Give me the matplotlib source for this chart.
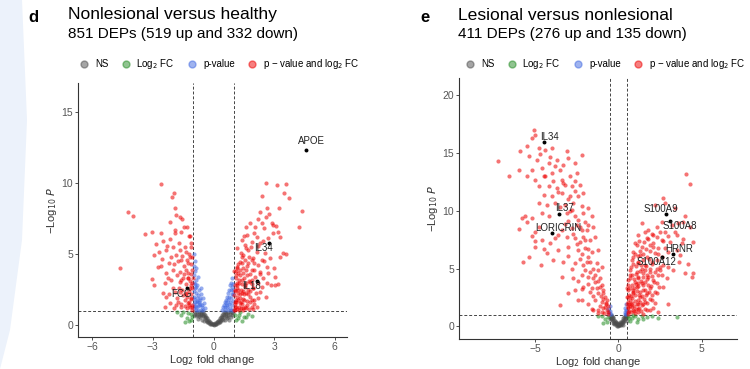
import matplotlib
matplotlib.use("Agg")
import matplotlib.pyplot as plt
from matplotlib.lines import Line2D
from matplotlib.patches import Polygon

plt.rcParams['font.family'] = ['Liberation Sans', 'DejaVu Sans']

# ---- panel d: nonlesional versus healthy ----
d_red_x = [-2.61, -1.93, -2.05, -1.9, -4.25, -4.0, -1.85, -1.65, -1.54, -2.17, -1.47, -1.29,
           -3.37, -3.04, -2.61, -1.88, -1.59, -1.17, -2.86, -2.17, -1.7, -1.09, -2.69, -2.33,
           -1.87, -1.34, -2.94, -2.55, -4.61, -2.2, -1.59, -1.26, -1.17, -2.74, -2.0, -2.33,
           -1.67, -1.37, -1.09, -3.02, -2.96, -2.41, -2.12, -1.67, -1.26, -1.04, -2.5, -2.33,
           -1.92, -1.54, -1.14, -1.34, -2.17, -1.75, -1.42, -1.09, -1.59, -1.21, -1.04, -1.97,
           -2.41, -1.1, -1.2, -1.05, -1.3, -1.15, -1.25, -1.45, -1.05, -1.1, -1.3, -1.7, -1.8,
           -1.5, -2.0, -1.95, -2.3, -1.2, -1.02, -1.08, -1.35,
           -1.05, -1.15, -1.25, -1.4, -1.6, -1.85, -1.1, -1.2, -1.35, -1.5, -1.65, -2.2, -1.12,
           -1.28, -1.45, -1.6, -1.8, -2.25, -1.1, -1.3, -1.55, -1.75, -2.1, -2.6, -1.4, -1.65,
           -2.0, -2.5, -1.9, -1.05, -1.2,
           2.58, 3.12, 3.59, 3.5, 3.71, 2.38, 2.63, 3.26, 4.36, 2.3, 2.61, 2.91, 2.96, 4.25,
           1.8, 2.4, 1.59, 2.05, 2.5, 2.93, 3.21, 1.67, 2.13, 2.71, 1.39, 1.88, 2.31, 1.55,
           1.17, 1.72, 2.13, 2.55, 3.45, 3.29, 1.47, 1.97, 2.38, 2.79, 1.31, 1.72, 2.21, 2.63,
           1.14, 1.47, 1.88, 2.3, 2.71, 3.04, 1.22, 1.64, 2.05, 2.46, 1.1, 1.39, 1.8, 2.63,
           3.04, 1.17, 1.55, 1.97, 2.3, 1.06, 1.39, 1.72, 1.14, 1.47, 1.88, 1.06, 1.31, 1.64,
           2.13, 1.11, 1.44, 1.97, 1.02, 1.05, 1.08, 1.12, 1.03, 1.2, 1.25, 1.3, 1.18, 1.35,
           1.4, 1.5, 1.55, 1.6, 1.25, 1.05, 1.1, 1.3, 1.5, 1.7, 1.8, 1.9, 2.0, 2.2, 2.4, 1.65,
           1.9, 1.4, 1.15, 1.02,
           1.05, 1.15, 1.25, 1.35, 1.45, 1.6, 1.75, 1.9, 1.1, 1.2, 1.35, 1.5, 1.65, 1.8, 2.0,
           1.08, 1.22, 1.32, 1.45, 1.62, 1.78, 1.95, 2.1, 1.15, 1.28, 1.42, 1.58, 1.75, 1.92,
           2.2, 1.1, 1.3, 1.45, 1.6, 1.8, 2.0, 2.3, 1.2, 1.4, 1.55, 1.75, 2.0, 2.5, 1.35, 1.6,
           1.85, 2.2, 2.45, 1.5, 2.0, 2.2, 2.75, 3.1, 3.3, 3.6, 3.0, 2.85, 2.6, 3.2]
d_red_y = [9.93, 9.29, 9.06, 8.28, 8.0, 7.69, 7.76, 7.65, 7.48, 7.25, 6.94, 6.94,
           6.42, 6.54, 6.47, 6.52, 6.59, 6.31, 5.72, 6.05, 5.76, 5.53, 5.18, 5.29,
           4.94, 5.18, 4.94, 4.64, 4.05, 4.35, 4.59, 4.4, 4.82, 4.12, 3.88, 3.65,
           3.76, 3.88, 3.6, 3.22, 2.82, 2.94, 3.18, 3.06, 3.29, 2.94, 2.28, 2.0,
           2.35, 2.47, 2.59, 2.24, 1.53, 1.65, 1.76, 1.88, 1.29, 1.41, 1.25, 1.18,
           1.29, 2.2, 1.6, 1.45, 2.0, 3.1, 3.7, 4.2, 4.8, 5.8, 1.2, 2.6, 1.9,
           3.3, 2.6, 4.3, 5.6, 6.3, 3.3, 2.6, 2.9,
           1.1, 1.3, 1.55, 1.35, 1.5, 1.4, 1.9, 2.4, 2.2, 2.1, 2.35, 2.2, 2.8,
           3.3, 3.6, 3.2, 3.5, 3.3, 4.3, 4.6, 4.9, 4.5, 4.8, 4.2, 5.5, 5.3,
           5.5, 5.9, 6.7, 3.9, 5.0,
           9.98, 9.84, 9.91, 9.29, 8.96, 9.08, 8.24, 8.28, 8.05, 8.0, 7.62, 7.22, 7.04, 6.94,
           7.18, 7.18, 6.94, 6.89, 6.82, 6.47, 6.59, 6.35, 6.24, 6.12, 6.0, 5.88, 5.76, 5.65,
           5.41, 5.29, 5.18, 5.11, 5.06, 4.82, 4.94, 4.71, 4.59, 4.71, 4.47, 4.35, 4.24, 4.12,
           4.12, 4.0, 3.88, 3.76, 3.65, 3.41, 3.65, 3.53, 3.41, 3.29, 3.29, 3.18, 3.06, 2.94,
           2.82, 2.82, 2.71, 2.59, 2.35, 2.47, 2.28, 2.19, 2.0, 1.88, 1.76, 1.65, 1.53, 1.41,
           1.29, 1.25, 1.18, 1.11, 1.1, 1.3, 1.5, 1.8, 2.1, 2.3, 1.3, 1.9, 2.6, 2.5,
           1.5, 2.2, 1.3, 3.0, 3.0, 2.8, 3.5, 3.9, 3.3, 2.5, 2.0, 3.2, 1.5, 1.9, 2.7, 4.2,
           4.6, 4.8, 4.0, 3.8,
           1.05, 1.15, 1.05, 1.2, 1.1, 1.2, 1.15, 1.25, 1.6, 1.75, 1.65, 1.8, 1.7, 1.6, 1.8,
           2.4, 2.5, 2.2, 2.4, 2.3, 2.4, 2.6, 2.3, 3.0, 3.2, 2.9, 2.8, 3.1, 2.9,
           3.0, 3.8, 3.5, 3.7, 3.9, 3.6, 3.9, 3.6, 4.3, 4.4, 4.6, 4.8, 4.4, 4.5, 5.1, 5.4,
           5.5, 5.6, 5.9, 6.3, 6.5, 7.5, 7.8, 7.0, 6.2, 5.0, 4.0, 2.8, 2.0, 2.9]
d_blue_x = [-0.95, -0.9, -0.98, -0.92, -0.97, -0.85, -0.95, -0.8, -0.9, -0.7, -0.85, -0.6,
            -0.75, -0.95, -0.5, -0.65, -0.8, -0.9, -0.45, -0.55, -0.7, -0.85, -0.95, -0.4,
            -0.5, -0.6, -0.75, -0.88, -0.98, -0.72, -0.62, -0.78, -0.58, -0.68, -0.82, -0.92,
            -0.97, -0.88, -0.96, -0.86, -0.76, -0.66, -0.93, -0.83,
            0.4, 0.45, 0.5, 0.55, 0.6, 0.65, 0.7, 0.75, 0.8, 0.85, 0.9, 0.95, 0.92, 0.85,
            0.75, 0.65, 0.55, 0.8, 0.9, 0.95, 0.7, 0.88, 0.97, 0.62, 0.78, 0.98, 0.93, 0.72,
            0.68, 0.82, 0.96, 0.58, 0.87]
d_blue_y = [5.0, 4.5, 4.2, 3.8, 3.5, 3.2, 3.0, 2.8, 2.6, 2.5, 2.3, 2.2,
            2.1, 2.0, 1.9, 1.8, 1.7, 1.6, 1.55, 1.45, 1.4, 1.3, 1.2, 1.2,
            1.1, 1.05, 1.1, 1.05, 1.5, 1.65, 2.6, 3.4, 1.25, 1.95, 1.9, 2.9,
            2.4, 4.0, 1.85, 2.7, 1.35, 1.5, 1.35, 1.6,
            1.1, 1.25, 1.4, 1.6, 1.8, 2.0, 2.3, 2.5, 2.8, 3.0, 2.7, 2.5, 2.2, 1.9,
            1.5, 1.3, 1.1, 1.2, 1.4, 1.7, 1.1, 1.1, 1.05, 1.55, 2.0, 2.9, 3.3, 1.75,
            1.45, 1.65, 2.2, 1.3, 2.45]
d_green_x = [-1.1, -1.3, -1.5, -1.2, -1.6, -1.05, -1.4, -1.25, -1.8, -1.1,
             1.05, 1.2, 1.3, 1.5, 1.7, 1.1, 1.4, 1.9, 1.25, 1.6]
d_green_y = [0.8, 0.5, 0.9, 0.3, 0.7, 0.6, 0.2, 0.85, 0.95, 0.4,
             0.7, 0.5, 0.9, 0.6, 0.8, 0.35, 0.3, 0.65, 0.75, 0.55]
d_grey_x = [0, 0.05, -0.05, 0.1, -0.1, 0.15, -0.15, 0.2, -0.2, 0.25, -0.25, 0.3, -0.3, 0.35,
            -0.35, 0.4, -0.4, 0.45, -0.45, 0.5, -0.5, 0.55, -0.55, 0.6, -0.6, 0.7, -0.7, 0.8,
            -0.8, 0.9, -0.9, 0.3, -0.3, 0.4, -0.4, 0.5, -0.5, 0.6, -0.6, 0.7, -0.7, 0.8, -0.8,
            0.9, -0.9, 0.2, -0.2, 0.1, -0.12, 0.35, -0.38, 0.65, -0.65, 0.85, -0.85, 0.95,
            -0.95, 0.75, -0.75, 0.55, -0.55, 0.02, -0.03, 0.08, -0.08, 0.18, -0.18, 0.28,
            -0.28, 0.42, -0.42, 0.52, -0.52, 0.62, -0.62, 0.72, -0.72, 0.33, -0.33, 0.47, -0.47]
d_grey_y = [0.02, 0.05, 0.08, 0.12, 0.15, 0.2, 0.22, 0.3, 0.28, 0.38, 0.4, 0.48, 0.5, 0.6,
            0.58, 0.7, 0.72, 0.82, 0.8, 0.9, 0.92, 0.95, 0.97, 0.85, 0.88, 0.9, 0.93, 0.95,
            0.9, 0.92, 0.96, 0.3, 0.32, 0.45, 0.5, 0.6, 0.62, 0.65, 0.7, 0.75, 0.78, 0.8, 0.7,
            0.75, 0.8, 0.15, 0.18, 0.05, 0.06, 0.4, 0.35, 0.5, 0.55, 0.6, 0.62, 0.85,
            0.7, 0.4, 0.45, 0.35, 0.4, 0.1, 0.12, 0.18, 0.1, 0.25, 0.12, 0.2, 0.25, 0.55,
            0.6, 0.75, 0.72, 0.78, 0.82, 0.6, 0.65, 0.2, 0.22, 0.35, 0.3]
d_labels = ['APOE', 'IL34', 'IL18', 'FCG']
d_label_x = [4.55, 2.73, 2.13, -1.32]
d_label_y = [12.35, 5.81, 3.13, 2.6]

# ---- panel e: lesional versus nonlesional ----
e_red_x = [-7.26, -6.6, -5.1, -5.0, -5.2, -4.76, -5.5, -5.94, -5.4, -4.9, -4.4, -4.0, -3.7,
           -4.2, -4.6, -5.2, -6.0, -5.5, -5.0, -4.5, -4.0, -3.5, -3.1, -3.0, -2.6, -2.2,
           -3.4, -2.9, -2.5, -4.8, -4.2, -3.7, -3.2, -2.8, -2.3, -4.5, -4.0, -3.4, -2.9,
           -2.4, -2.1, -4.8, -4.3, -3.8, -3.2, -2.7, -2.2, -1.8, -5.6, -5.2, -4.6, -4.2,
           -3.1, -2.6, -2.1, -1.6, -4.8, -3.4, -2.8, -2.3, -1.8, -1.5, -5.04, -4.6, -3.8,
           -3.1, -2.6, -2.1, -1.7, -1.4, -5.0, -4.3, -3.6, -3.0, -2.4, -2.0, -1.6, -1.2,
           -5.74, -4.66, -3.3, -2.6, -2.1, -1.7, -1.3, -1.0, -3.4, -2.7, -2.2, -1.8, -1.4,
           -1.1, -2.6, -2.1, -1.7, -1.3, -0.9, -3.5, -2.2, -1.8, -1.4, -1.0, -0.8, -1.6,
           -1.2, -0.8, -0.64, -1.0, -0.76, -0.9, -1.1, -0.7, -1.2, -1.5, -1.8, -1.9, -2.4,
           -2.8,
           -0.6, -0.7, -0.85, -0.95, -1.1, -1.25, -0.62, -0.72, -0.9, -1.05, -1.25, -1.5, -1.6,
           -1.85, -1.2, -1.4, -1.0, -1.55, -1.7, -2.0, -1.9, -2.3, -2.2, -1.8, -2.5, -2.3,
           -2.0, -2.7, -2.2, -2.5, -3.0, -2.0, -2.9, -3.5, -3.0, -3.6, -2.6, -3.3, -3.9, -2.6,
           -4.4, -3.8, -3.3, -4.7, -4.1, -5.8, -5.5, -5.0, -5.2, -5.4, -6.0, -3.2, -3.6, -4.1,
           -3.0, -2.8, -2.4, -2.2, -1.5, -3.0, -2.4, -4.5, -3.9,
           4.06, 4.3, 2.7, 2.8, 2.2, 3.4, 4.0, 3.9, 4.3, 3.6, 1.4, 1.8, 2.3, 2.8, 3.4, 1.2,
           1.7, 2.1, 2.6, 3.1, 3.8, 1.0, 1.4, 1.9, 2.4, 3.0, 3.5, 0.9, 1.3, 1.7, 2.2, 3.64,
           0.8, 1.2, 1.6, 2.0, 2.5, 3.0, 0.7, 1.1, 1.5, 1.9, 2.4, 2.9, 4.0, 4.4, 4.5, 0.6,
           1.0, 1.4, 1.8, 2.3, 2.7, 0.54, 0.9, 1.3, 1.7, 2.2, 0.5, 0.8, 1.2, 1.6, 2.0, 2.96,
           0.52, 0.8, 1.2, 1.7, 0.6, 1.0, 1.5, 2.4, 0.7, 0.9, 1.1, 0.6, 0.7, 1.2, 1.4, 1.8,
           2.1, 0.6, 0.56, 0.76, 1.1, 1.4, 1.3, 1.6, 1.9, 1.2, 2.5, 2.6, 3.3, 2.1, 2.3,
           0.55, 0.65, 0.75, 0.85, 0.95, 1.05, 1.15, 1.25, 1.35, 1.6, 1.9, 2.1,
           0.55, 0.62, 0.72, 0.82, 0.92, 1.02, 1.15, 1.3, 1.45, 1.55, 1.75, 1.9, 2.2,
           0.58, 0.66, 0.78, 0.88, 1.0, 1.12, 1.25, 1.4, 1.5, 1.65, 1.85, 2.05, 2.35,
           0.6, 0.7, 0.82, 0.95, 1.05, 1.2, 1.35, 1.5, 1.62, 1.75, 1.95, 2.15, 2.45,
           0.68, 0.8, 0.92, 1.05, 1.18, 1.3, 1.45, 1.6, 1.72, 1.88, 2.05, 2.2, 2.6,
           0.78, 0.9, 1.05, 1.2, 1.35, 1.5, 1.68, 1.85, 2.05, 2.3, 2.7,
           0.85, 1.0, 1.15, 1.3, 1.5, 1.65, 1.9, 2.1, 2.4, 2.8,
           1.1, 1.25, 1.55, 1.8, 2.0, 2.3, 2.5, 2.7, 3.0, 1.6, 2.6, 3.2, 3.5, 3.9, 4.5, 3.7, 4.2]
e_red_y = [14.35, 13.04, 16.96, 16.6, 16.3, 15.45, 15.6, 15.16, 14.72, 14.43, 15.3, 15.45,
           14.43, 14.14, 13.71, 13.57, 13.57, 12.99, 12.7, 12.99, 13.28, 13.57, 15.16, 14.58,
           14.14, 14.87, 12.7, 12.99, 13.28, 12.12, 12.12, 11.97, 12.26, 12.12, 12.26, 11.39,
           11.25, 11.54, 11.25, 11.25, 11.54, 10.67, 10.52, 10.67, 10.52, 10.67, 10.38, 10.23,
           9.51, 9.36, 9.8, 9.51, 9.8, 9.51, 9.8, 9.51, 8.64, 8.35, 8.49, 8.64, 8.78, 8.64,
           7.42, 7.48, 7.62, 7.77, 7.62, 7.77, 7.48, 7.77, 6.9, 6.32, 6.61, 6.9, 6.61, 6.75,
           6.46, 6.61, 5.59, 5.3, 5.59, 5.45, 5.3, 5.59, 5.45, 5.16, 4.29, 4.14, 4.43, 4.29,
           4.43, 4.14, 3.13, 3.42, 2.99, 3.28, 3.13, 1.83, 2.26, 1.97, 2.26, 2.12, 2.55, 1.54,
           1.39, 1.68, 1.25, 1.25, 1.97, 2.84, 3.42, 2.26, 4.87, 5.0, 6.03, 8.35, 9.22,
           10.09,
           1.1, 1.4, 1.15, 1.6, 1.8, 1.15, 1.8, 2.0, 2.4, 2.6, 2.9, 2.6, 3.3,
           3.7, 3.9, 3.8, 3.6, 4.2, 4.7, 4.9, 5.6, 5.8, 6.3, 6.7, 7.1, 7.3,
           7.5, 8.0, 8.3, 8.8, 9.1, 9.0, 10.0, 10.3, 11.0, 11.6, 11.7, 12.4, 12.6, 12.6,
           13.0, 13.9, 14.0, 14.9, 14.7, 9.4, 9.0, 8.2, 7.8, 6.0, 8.4, 8.9, 7.9, 7.2,
           6.1, 5.0, 3.9, 3.2, 1.4, 2.9, 2.3, 6.7, 5.7,
           13.22, 12.35, 11.1, 10.67, 10.52, 10.23, 9.51, 9.07, 8.64, 8.93, 8.93, 8.35, 8.64,
           8.2, 8.2, 7.91, 7.62, 7.91, 7.48, 7.33, 7.19, 7.19, 6.9, 7.04, 6.75, 6.46, 6.61,
           6.46, 6.17, 6.03, 6.32, 5.59, 5.74, 5.45, 5.3, 5.59, 5.16, 5.16, 4.87, 4.72, 4.58,
           4.72, 4.43, 4.14, 4.58, 4.29, 4.58, 4.0, 3.86, 3.71, 3.57, 3.71, 3.42, 3.28, 3.13,
           2.99, 2.84, 2.99, 2.55, 2.41, 2.26, 2.12, 2.26, 1.97, 1.97, 1.68, 1.54, 1.39, 1.25,
           1.16, 1.1, 1.25, 2.26, 2.84, 3.42, 3.57, 4.43, 4.14, 5.0, 4.29, 4.0, 1.62, 2.12,
           1.97, 1.97, 1.83, 2.55, 3.13, 3.28, 3.71, 4.87, 6.03, 4.87, 7.19, 5.0,
           1.1, 1.35, 1.2, 1.45, 1.3, 1.5, 1.25, 1.6, 1.35, 1.5, 1.4, 1.6,
           1.7, 1.95, 1.8, 2.05, 1.75, 2.2, 1.9, 2.1, 1.95, 2.35, 2.05, 2.4, 2.0,
           2.5, 2.75, 2.6, 2.95, 2.7, 3.05, 2.75, 2.6, 3.1, 2.7, 3.0, 2.7, 2.9,
           3.1, 3.35, 3.6, 3.3, 3.7, 3.45, 3.9, 3.6, 3.85, 4.1, 3.5, 3.8, 3.4,
           4.2, 4.45, 4.1, 4.5, 4.3, 4.75, 4.25, 4.9, 4.45, 4.95, 4.35, 4.7, 4.4,
           5.1, 5.4, 5.25, 5.6, 5.3, 5.7, 5.2, 5.8, 5.4, 5.7, 5.3,
           6.0, 6.3, 6.1, 6.5, 6.3, 6.7, 6.5, 6.9, 6.3, 6.8,
           7.0, 7.4, 7.3, 7.6, 8.0, 7.7, 8.2, 7.4, 7.8, 8.2, 9.0, 8.8, 7.9, 7.6, 7.3, 6.2, 5.4]
e_blue_x = [-0.55, -0.6, -0.5, -0.45, -0.52, -0.58, 0.45, 0.5, 0.4, 0.48, 0.42, 0.38, 0.46]
e_blue_y = [1.2, 1.5, 1.8, 1.1, 1.35, 1.05, 1.1, 1.3, 1.6, 1.9, 1.2, 1.05, 1.45]
e_green_x = [-0.6, -0.8, -1.0, -0.7, -1.2, -0.9,
             0.6, 0.8, 1.0, 1.2, 1.4, 1.7, 0.7, 2.0, 2.4, 1.1, 3.5, 0.9, 1.5, 0.65]
e_green_y = [0.8, 0.6, 0.9, 0.4, 0.85, 0.3,
             0.9, 0.7, 0.85, 0.6, 0.9, 0.8, 0.5, 0.9, 0.75, 0.4, 0.8, 0.95, 0.65, 0.7]
e_grey_x = [0, 0.05, -0.05, 0.1, -0.1, 0.15, -0.15, 0.2, -0.2, 0.25, -0.25, 0.3, -0.3, 0.35,
            -0.35, 0.4, -0.4, 0.45, -0.45, 0.48, -0.48, 0.3, -0.3, 0.4, -0.4, 0.2, -0.2, 0.1,
            -0.1, 0.45, -0.45, 0.35, -0.35, 0.25, -0.25, 0.12, -0.12, 0.5, -0.5, 0.02, -0.02,
            0.07, -0.07, 0.17, -0.17, 0.27, -0.27, 0.38, -0.38]
e_grey_y = [0.02, 0.1, 0.12, 0.2, 0.22, 0.3, 0.32, 0.42, 0.45, 0.55, 0.52, 0.68, 0.7, 0.8,
            0.82, 0.9, 0.92, 0.95, 0.97, 0.85, 0.8, 0.4, 0.45, 0.6, 0.55, 0.2, 0.25, 0.08,
            0.05, 0.7, 0.65, 0.5, 0.3, 0.15, 0.18, 0.35, 0.4, 0.5, 0.6, 0.15, 0.2,
            0.25, 0.3, 0.12, 0.1, 0.35, 0.3, 0.7, 0.75]
e_labels = ['IL34', 'IL37', 'LORICRIN', 'S100A9', 'S100A8', 'HRNR', 'S100A12']
e_label_x = [-4.48, -3.58, -3.96, 2.86, 3.1, 3.3, 2.64]
e_label_y = [15.94, 9.74, 8.06, 9.71, 9.16, 6.23, 6.03]

COL_NS = '#4d4d4d'
COL_FC = '#228b22'
COL_P = '#4169e1'
COL_BOTH = '#ee0000'

fig = plt.figure(figsize=(7.5, 3.69), dpi=100)
W, H = 750, 369

# faint blue page decoration on the left edge
fig.patches.append(Polygon([(0, 1), (22 / W, 1), (27 / W, 1 - 120 / H), (22 / W, 1 - 240 / H),
                            (10 / W, 1 - 330 / H), (0, 0)], closed=True,
                           transform=fig.transFigure, facecolor='#ecf2fb', edgecolor='none',
                           zorder=0))


def px_axes(l, t, r, b):
    return fig.add_axes([l / W, 1 - b / H, (r - l) / W, (b - t) / H])


def volcano(ax, groups, fc, xlim, ylim, xticks, yticks, labels, lx, ly, offsets):
    for x, y, c in groups:
        ax.scatter(x, y, s=9, c=c, alpha=0.55, linewidths=0, zorder=2)
    ax.axvline(-fc, color='#444444', ls=(0, (3, 2)), lw=0.7, zorder=1)
    ax.axvline(fc, color='#444444', ls=(0, (3, 2)), lw=0.7, zorder=1)
    ax.axhline(1, color='#444444', ls=(0, (3, 2)), lw=0.7, zorder=1)
    ax.scatter(lx, ly, s=8, c='black', zorder=3, linewidths=0)
    for name, x, y, off in zip(labels, lx, ly, offsets):
        ax.annotate(name, (x, y), xytext=off, textcoords='offset points',
                    ha='center', va='center', fontsize=7, color='#222222', zorder=4)
    ax.set_xlim(*xlim)
    ax.set_ylim(*ylim)
    ax.set_xticks(xticks)
    ax.set_yticks(yticks)
    ax.set_xticklabels([str(t).replace('-', '\u2212') for t in xticks])
    ax.patch.set_alpha(0)
    for s in ['top', 'right']:
        ax.spines[s].set_visible(False)
    for s in ['left', 'bottom']:
        ax.spines[s].set_color('#333333')
        ax.spines[s].set_linewidth(0.8)
    ax.tick_params(colors='#333333', labelcolor='#555555', labelsize=7.5, length=2, width=0.6,
                   pad=1.5)
    ax.set_xlabel('Log$_2$ fold change', fontsize=8, color='#333333', labelpad=1)
    ax.set_ylabel('\u2212Log$_{10}$ $P$', fontsize=8, color='#333333', labelpad=2)


ax1 = px_axes(78, 83, 347, 337)
volcano(ax1,
        [(d_grey_x, d_grey_y, COL_NS), (d_green_x, d_green_y, COL_FC),
         (d_blue_x, d_blue_y, COL_P), (d_red_x, d_red_y, COL_BOTH)],
        1, (-6.7, 6.6), (-0.83, 17.05), [-6, -3, 0, 3, 6], [0, 5, 10, 15],
        d_labels, d_label_x, d_label_y,
        [(4, 6), (-4, -4), (-4, -4), (-4, -4)])

ax2 = px_axes(459, 78, 737, 339)
volcano(ax2,
        [(e_grey_x, e_grey_y, COL_NS), (e_green_x, e_green_y, COL_FC),
         (e_blue_x, e_blue_y, COL_P), (e_red_x, e_red_y, COL_BOTH)],
        0.5, (-9.58, 7.13), (-1.1, 21.5), [-5, 0, 5], [0, 5, 10, 15, 20],
        e_labels, e_label_x, e_label_y,
        [(4, 4), (4, 4), (4, 4), (-4, 4), (7, -4), (4, 4), (-4, -4)])

# titles
for x0, off, letter, title, sub in [(28, 40, 'd', 'Nonlesional versus healthy',
                                     '851 DEPs (519 up and 332 down)'),
                                    (420, 38, 'e', 'Lesional versus nonlesional',
                                     '411 DEPs (276 up and 135 down)')]:
    fig.text(x0 / W, 1 - 18 / H, letter, fontsize=12, fontweight='bold', va='center')
    fig.text((x0 + off) / W, 1 - 15 / H, title, fontsize=12.6, va='center')
    fig.text((x0 + off) / W, 1 - 34 / H, sub, fontsize=11, va='center')

handles = [Line2D([], [], marker='o', ls='', color=c, alpha=0.5, markersize=5)
           for c in [COL_NS, COL_FC, COL_P, COL_BOTH]]
names = ['NS', 'Log$_2$ FC', 'p-value', 'p \u2212 value and log$_2$ FC']
for xc in [217, 603]:
    fig.legend(handles, names, loc='center', bbox_to_anchor=(xc / W, 1 - 64 / H), ncol=4,
               frameon=False, fontsize=7, handletextpad=0.1, columnspacing=0.8)

fig.savefig('out.png', dpi=100)
